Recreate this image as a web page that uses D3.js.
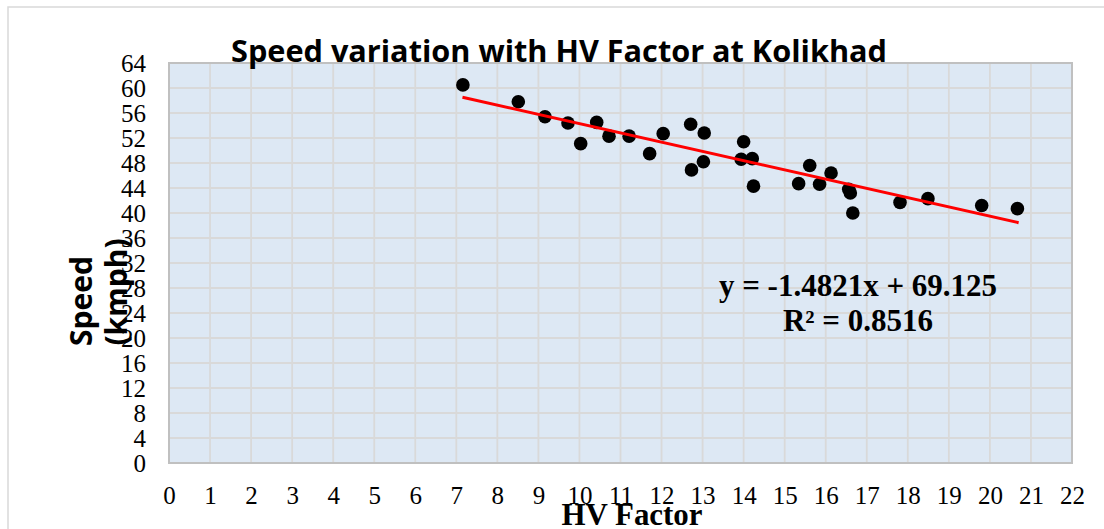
<!DOCTYPE html>
<html>
<head>
<meta charset="utf-8">
<script src="https://cdn.jsdelivr.net/npm/d3@7"></script>
<style>
  body { margin: 0; background: #fff; }
  svg { display: block; }
</style>
</head>
<body>
<svg id="chart" width="1104" height="529"></svg>
<script>
const titleText = "Speed variation with HV Factor at Kolikhad";
const xAxisTitle = "HV Factor";
const yAxisTitle = ["Speed", "(kmph)"];
const xTicks = d3.range(0, 23, 1);
const yTicks = d3.range(0, 65, 4);
const hvFactor = [7.16, 8.51, 9.16, 9.72, 10.03, 10.42, 10.72, 11.21, 11.71, 12.04, 12.71, 12.73, 13.04, 13.02, 14.0, 13.94, 14.21, 14.24, 15.34, 15.61, 15.85, 16.13, 16.56, 16.6, 16.66, 17.81, 18.49, 19.8, 20.67];
const speed = [60.5, 57.8, 55.4, 54.4, 51.1, 54.5, 52.3, 52.3, 49.5, 52.7, 54.2, 46.9, 52.8, 48.2, 51.4, 48.6, 48.7, 44.3, 44.7, 47.6, 44.6, 46.4, 43.8, 43.2, 40.0, 41.7, 42.3, 41.2, 40.7];
const slope = -1.4821, intercept = 69.125;
const trendRange = [7.15, 20.7];
const eqLines = ["y = -1.4821x + 69.125", "R² = 0.8516"];

const svg = d3.select("#chart");
const L = 169, R = 1072, T = 63, B = 463;
const x = d3.scaleLinear().domain([0, 22]).range([L, R]);
const y = d3.scaleLinear().domain([0, 64]).range([B, T]);

// outer chart border
svg.append("rect").attr("x", 8).attr("y", 7).attr("width", 1110).attr("height", 540)
  .attr("fill", "#fff").attr("stroke", "#d9d9d9").attr("stroke-width", 1.5);

// plot area
svg.append("rect").attr("x", L).attr("y", T).attr("width", R - L).attr("height", B - T)
  .attr("fill", "#dde8f4");

// grid
svg.append("g").selectAll("line").data(xTicks).join("line")
  .attr("x1", d => x(d)).attr("x2", d => x(d)).attr("y1", T).attr("y2", B)
  .attr("stroke", "#d9d9d9").attr("stroke-width", 1.8);
svg.append("g").selectAll("line").data(yTicks).join("line")
  .attr("y1", d => y(d)).attr("y2", d => y(d)).attr("x1", L).attr("x2", R)
  .attr("stroke", "#d9d9d9").attr("stroke-width", 1.8);

svg.append("rect").attr("x", L).attr("y", T).attr("width", R - L).attr("height", B - T)
  .attr("fill", "none").attr("stroke", "#c0c0c0").attr("stroke-width", 2);

// axis tick labels via d3 axes
const yAxis = svg.append("g").attr("transform", `translate(${L},0)`)
  .call(d3.axisLeft(y).tickValues(yTicks).tickSize(0).tickPadding(23));
yAxis.select(".domain").remove();
yAxis.selectAll("text").attr("font-family", "Liberation Serif, Times New Roman, serif")
  .attr("font-size", 25).attr("fill", "#000");

const xAxis = svg.append("g").attr("transform", `translate(0,${B})`)
  .call(d3.axisBottom(x).tickValues(xTicks).tickSize(0).tickPadding(23));
xAxis.select(".domain").remove();
xAxis.selectAll("text").attr("font-family", "Liberation Serif, Times New Roman, serif")
  .attr("font-size", 25).attr("fill", "#000");

// title
svg.append("text").attr("x", 559).attr("y", 62).attr("text-anchor", "middle")
  .attr("font-family", "Open Sans, Noto Sans, sans-serif").attr("font-weight", "bold")
  .attr("font-size", 30).attr("textLength", 656).attr("lengthAdjust", "spacingAndGlyphs")
  .text(titleText);

// axis titles
svg.append("text").attr("x", 632).attr("y", 525).attr("text-anchor", "middle")
  .attr("font-family", "Liberation Serif, Times New Roman, serif").attr("font-weight", "bold")
  .attr("font-size", 31).attr("textLength", 141).attr("lengthAdjust", "spacingAndGlyphs")
  .text(xAxisTitle);

svg.append("text").attr("transform", "translate(92,301) rotate(-90)")
  .attr("text-anchor", "middle")
  .attr("font-family", "Open Sans, Noto Sans, sans-serif").attr("font-weight", "bold")
  .attr("font-size", 30).text(yAxisTitle[0]);
svg.append("text").attr("transform", "translate(127,292) rotate(-90)")
  .attr("text-anchor", "middle")
  .attr("font-family", "Open Sans, Noto Sans, sans-serif").attr("font-weight", "bold")
  .attr("font-size", 30).text(yAxisTitle[1]);

// points
svg.append("g").selectAll("circle").data(hvFactor.map((v, i) => [v, speed[i]])).join("circle")
  .attr("cx", d => x(d[0])).attr("cy", d => y(d[1])).attr("r", 6.8).attr("fill", "#000");

// trendline
const line = d3.line().x(d => x(d)).y(d => y(slope * d + intercept));
svg.append("path").datum(trendRange).attr("d", line)
  .attr("stroke", "#ff0000").attr("stroke-width", 3).attr("fill", "none");

// equation
const eq = svg.append("text").attr("text-anchor", "middle")
  .attr("font-family", "Liberation Serif, Times New Roman, serif").attr("font-weight", "bold")
  .attr("font-size", 31);
eq.append("tspan").attr("x", 858).attr("y", 296).text(eqLines[0]);
eq.append("tspan").attr("x", 858).attr("y", 331).text(eqLines[1]);
</script>
</body>
</html>
